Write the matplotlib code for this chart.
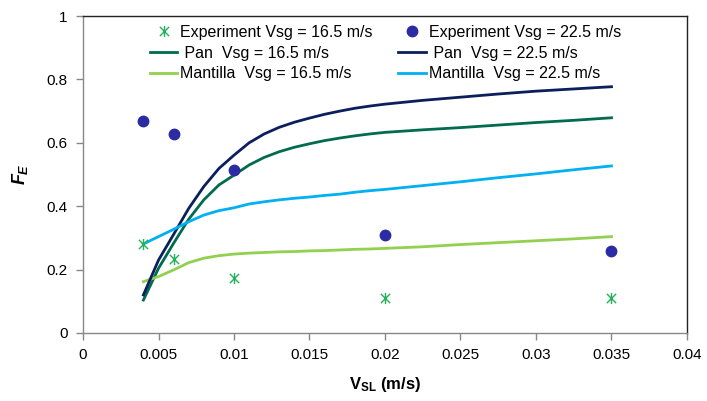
import matplotlib
matplotlib.use("Agg")
import matplotlib.pyplot as plt
from matplotlib.path import Path

plt.rcParams['font.family'] = ['Liberation Sans', 'DejaVu Sans']
plt.rcParams['mathtext.fontset'] = 'custom'
plt.rcParams['mathtext.rm'] = 'Liberation Sans:bold'
plt.rcParams['mathtext.it'] = 'Liberation Sans:bold:italic'
plt.rcParams['mathtext.bf'] = 'Liberation Sans:bold'

# Experimental points
exp_x = [0.004, 0.006, 0.01, 0.02, 0.035]
exp_165 = [0.281, 0.233, 0.173, 0.110, 0.110]
exp_225 = [0.669, 0.628, 0.514, 0.309, 0.259]

# Model curves
model_x = [0.004, 0.005, 0.006, 0.007, 0.008, 0.009, 0.010,
           0.011, 0.012, 0.013, 0.014, 0.015, 0.016, 0.017, 0.018, 0.019, 0.020,
           0.0225, 0.025, 0.0275, 0.030, 0.0325, 0.035]
pan_225 = [0.120, 0.230, 0.311, 0.393, 0.462, 0.519, 0.561,
           0.600, 0.628, 0.649, 0.665, 0.678, 0.690, 0.700, 0.709, 0.716, 0.722,
           0.734, 0.744, 0.754, 0.763, 0.770, 0.777]
pan_165 = [0.104, 0.204, 0.283, 0.359, 0.420, 0.467, 0.498,
           0.530, 0.554, 0.572, 0.586, 0.597, 0.607, 0.615, 0.622, 0.628, 0.633,
           0.641, 0.648, 0.656, 0.664, 0.671, 0.679]
mantilla_225 = [0.281, 0.304, 0.327, 0.351, 0.372, 0.386, 0.395,
                0.407, 0.414, 0.420, 0.425, 0.429, 0.434, 0.438, 0.444, 0.449, 0.453,
                0.465, 0.477, 0.490, 0.502, 0.515, 0.527]
mantilla_165 = [0.162, 0.178, 0.199, 0.222, 0.236, 0.244, 0.249,
                0.252, 0.254, 0.256, 0.257, 0.259, 0.260, 0.262, 0.264, 0.265, 0.267,
                0.272, 0.279, 0.285, 0.291, 0.297, 0.304]

x_ticks = [0, 0.005, 0.01, 0.015, 0.02, 0.025, 0.03, 0.035, 0.04]
x_tick_labels = ['0', '0.005', '0.01', '0.015', '0.02', '0.025', '0.03', '0.035', '0.04']
y_ticks = [0, 0.2, 0.4, 0.6, 0.8, 1.0]
y_tick_labels = ['0', '0.2', '0.4', '0.6', '0.8', '1']

# asterisk-style marker: an X crossed by a vertical bar
star = Path([(-1, -1), (1, 1), (-1, 1), (1, -1), (0, -1.2), (0, 1.2)],
            [Path.MOVETO, Path.LINETO, Path.MOVETO, Path.LINETO, Path.MOVETO, Path.LINETO])

fig = plt.figure(figsize=(7.07, 4.01), dpi=100)
ax = fig.add_axes([0.1174, 0.1696, 0.8543, 0.7904])

ax.plot(exp_x, exp_165, linestyle='none', marker=star, markersize=8,
        markeredgewidth=1.0, color='#22B35A', label='Experiment Vsg = 16.5 m/s', zorder=4)
ax.plot(model_x, pan_165, color='#006B4F', lw=2.0, label=' Pan  Vsg = 16.5 m/s')
ax.plot(model_x, mantilla_165, color='#92D050', lw=2.0, label='Mantilla  Vsg = 16.5 m/s')
ax.plot(exp_x, exp_225, linestyle='none', marker='o', markersize=7.5,
        color='#2B2BA3', label='Experiment Vsg = 22.5 m/s', zorder=4)
ax.plot(model_x, pan_225, color='#0A1F5C', lw=2.0, label=' Pan  Vsg = 22.5 m/s')
ax.plot(model_x, mantilla_225, color='#00B0F0', lw=2.0, label='Mantilla  Vsg = 22.5 m/s')

ax.set_xlim(0, 0.04)
ax.set_ylim(0, 1)
ax.set_xticks(x_ticks)
ax.set_xticklabels(x_tick_labels)
ax.set_yticks(y_ticks)
ax.set_yticklabels(y_tick_labels)
ax.tick_params(axis='both', direction='out', length=5, width=1, color='#888888',
               labelsize=11, labelcolor='black', pad=6)

for side in ('left', 'bottom'):
    ax.spines[side].set_color('#888888')
    ax.spines[side].set_linewidth(1.0)
for side in ('top', 'right'):
    ax.spines[side].set_color('#222222')
    ax.spines[side].set_linewidth(1.0)

ax.set_xlabel(r'$\mathrm{V}_{\mathrm{SL}}$ (m/s)', fontsize=12, fontweight='bold', labelpad=9)
ax.set_ylabel(r'$F_E$', fontsize=13, labelpad=12)

handles, labels = ax.get_legend_handles_labels()
ax.legend(handles, labels, ncol=2, loc='upper left', bbox_to_anchor=(0.111, 0.972),
          frameon=False, fontsize=11.5, handlelength=1.7, handletextpad=0.2,
          columnspacing=1.6, labelspacing=0.36, borderpad=0, borderaxespad=0)

fig.savefig('out.png', dpi=100)
